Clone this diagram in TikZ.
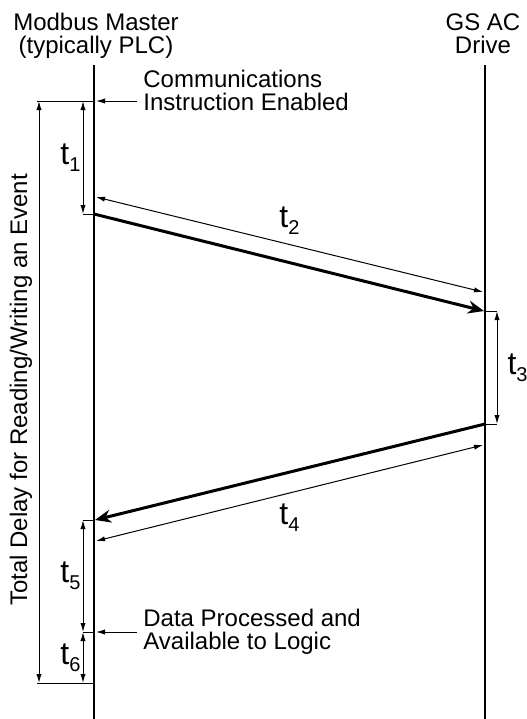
\documentclass[tikz,border=0pt]{standalone}
\usepackage{fontspec}
\setmainfont{Liberation Sans}
\usetikzlibrary{positioning,arrows.meta}
\newcommand{\tdel}[1]{t\raisebox{-3.5pt}{\fontsize{10}{10}\selectfont #1}}

\begin{document}
\begin{tikzpicture}[
    x=0.5pt, y=-0.5pt,
    lane/.style={line width=1.3pt},
    tick/.style={line width=0.5pt},
    dim/.style={line width=0.5pt,
                {Latex[length=4.5pt,width=2.6pt]}-{Latex[length=4.5pt,width=2.6pt]}},
    msg/.style={line width=1.5pt, -{Stealth[length=8pt,width=6.5pt]}},
    note/.style={line width=0.5pt, -{Latex[length=4.5pt,width=2.6pt]}, shorten >=1pt},
    lbl/.style={inner sep=0pt, align=left, font=\fontsize{12}{11.5}\selectfont},
    tlbl/.style={inner sep=0pt, font=\fontsize{16}{18}\selectfont}
]
    \useasboundingbox (0,0) rectangle (526,719);

    % lifelines
    \coordinate (mtop) at (94,65);  \coordinate (mbot) at (94,719);
    \coordinate (dtop) at (485,65); \coordinate (dbot) at (485,719);
    \draw[lane] (mtop) -- (mbot);
    \draw[lane] (dtop) -- (dbot);
    \node[lbl, align=center, anchor=north] (master) at (96,13) {Modbus Master\\(typically PLC)};
    \node[lbl, align=center, anchor=north] (drive) at (483,13) {GS AC\\Drive};

    % events
    \coordinate (m0) at (94,101);
    \coordinate (m1) at (94,214);
    \coordinate (m4) at (94,520);
    \coordinate (m5) at (94,632);
    \coordinate (m6) at (94,683);
    \coordinate (d2) at (485,311);
    \coordinate (d3) at (485,424);

    % ticks
    \coordinate (k0) at (37,101);  \coordinate (k6) at (37,683);
    \coordinate (k1) at (83,214);  \coordinate (k4) at (83,520);
    \coordinate (k2) at (497,311); \coordinate (k3) at (497,424);
    \draw[tick] (m0) -- (k0);
    \draw[tick] (m6) -- (k6);
    \draw[tick] (m1) -- (k1);
    \draw[tick] (m4) -- (k4);
    \draw[tick] (m5) -- (83,632) coordinate (k5);
    \draw[tick] (d2) -- (k2);
    \draw[tick] (d3) -- (k3);

    % total delay
    \coordinate (a0) at (39,101); \coordinate (a6) at (39,683);
    \draw[dim] (a0) -- (a6);
    \node[lbl, rotate=90] (total) at (21,390) {Total Delay for Reading/Writing an Event};

    % t1, t5, t6
    \draw[dim] (83,101) -- node[tlbl, left=1pt] (t1) {\tdel{1}} (k1);
    \draw[dim] (k4) -- node[tlbl, left=1pt] (t5) {\tdel{5}} (k5);
    \draw[dim] (k5) -- node[tlbl, left=1pt] (t6) {\tdel{6}} (83,683);

    % request
    \coordinate (s2a) at (96,197); \coordinate (s2b) at (483,292);
    \draw[dim] (s2a) -- node[tlbl, above=5pt] (t2) {\tdel{2}} (s2b);
    \draw[msg] (m1) -- (484,311);

    % drive response time
    \draw[dim] (k2) -- node[tlbl, right=5pt] (t3) {\tdel{3}} (k3);

    % reply
    \coordinate (s4a) at (483,445); \coordinate (s4b) at (96,541);
    \draw[dim] (s4a) -- node[tlbl, below=5pt] (t4) {\tdel{4}} (s4b);
    \draw[msg] (d3) -- (95,520);

    % notes
    \coordinate (c0) at (137,101); \coordinate (c5) at (137,632);
    \draw[note] (c0) -- (m0);
    \draw[note] (c5) -- (m5);
    \node[lbl, anchor=west] (enabled) at (143,90) {Communications\\Instruction Enabled};
    \node[lbl, anchor=west] (avail) at (143,632) {Data Processed and\\Available to Logic};
\end{tikzpicture}
\end{document}
